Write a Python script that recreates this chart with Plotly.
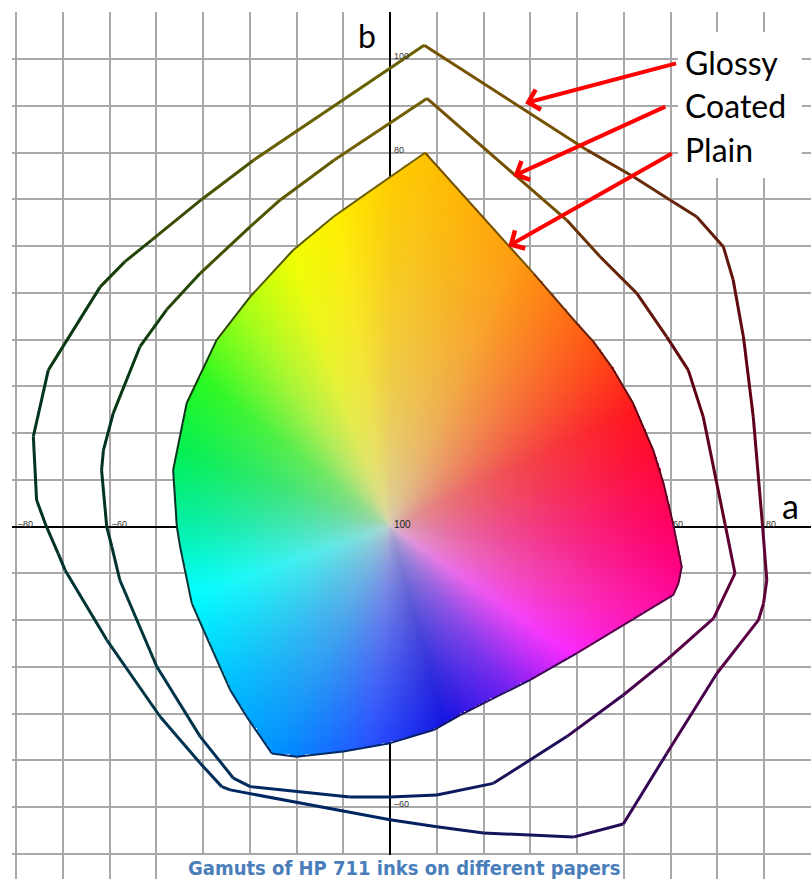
import numpy as np
import plotly.graph_objects as go

# ---------------- data (a*, b* gamut outlines) ----------------
glossy_a = [7.3, -29.2, -40.3, -51.0, -56.7, -62.0, -73.1, -76.3, -75.6, -73.5, -71.0, -69.5, -60.6, -49.2,
            -40.6, -36.0, -34.2, 0.0, 10.0, 20.0, 39.2, 49.9, 59.2, 69.9, 78.8, 79.9, 80.6, 79.7, 77.7, 75.6,
            73.4, 71.3, 65.6, 59.9, 52.0, 42.1]
glossy_b = [103.0, 78.4, 70.0, 61.3, 56.7, 51.3, 33.5, 19.3, 5.7, 0.0, -5.7, -9.3, -24.2, -40.6,
            -50.6, -55.6, -56.3, -62.7, -64.2, -65.5, -66.4, -63.6, -48.5, -31.4, -20.0, -16.4, -11.4, 0.0, 23.5, 40.6,
            52.8, 59.9, 66.3, 69.9, 74.9, 80.6]

coated_a = [7.9, -12.0, -23.5, -29.9, -40.6, -47.8, -53.5, -59.2, -61.3, -61.7, -60.6, -59.5, -57.8, -49.9,
            -40.6, -33.5, -29.9, -8.6, 0.0, 10.0, 22.1, 37.8, 49.9, 59.2, 69.2, 73.8, 71.7, 67.0, 63.8, 59.2,
            52.8, 44.9, 37.8]
coated_b = [91.6, 78.4, 69.9, 64.2, 54.2, 46.4, 38.5, 24.3, 16.4, 12.1, 0.0, -4.3, -11.4, -29.9,
            -44.9, -53.8, -55.6, -57.8, -57.8, -57.4, -54.9, -44.9, -36.0, -28.5, -19.6, -10.0, 0.4, 23.5, 33.5, 40.6,
            49.9, 57.8, 65.6]

plain_a = [7.5, -5.0, -12.1, -20.7, -29.9, -37.1, -43.5, -46.4, -45.6, -44.9, -42.4, -39.9, -34.2, -30.7,
           -25.3, -20.0, -10.0, 0.0, 9.3, 15.0, 29.9, 39.9, 60.6, 61.7, 62.4, 60.6, 58.5, 56.3, 52.0, 47.4,
           43.5, 39.6, 30.7]
plain_b = [80.0, 71.3, 66.3, 59.2, 49.2, 39.9, 26.4, 12.1, 0.0, -4.3, -16.4, -22.1, -34.9, -40.6,
           -48.5, -49.2, -48.1, -46.3, -43.5, -40.3, -32.8, -27.1, -14.6, -12.1, -8.6, 0.4, 9.3, 16.4, 26.4, 34.2,
           39.6, 43.9, 54.2]

label_names = ["Glossy", "Coated", "Plain"]
arrow_tail_a = [61.5, 59.2, 60.6]
arrow_tail_b = [99.2, 90.0, 80.0]
arrow_tip_a = [28.9, 26.4, 25.3]
arrow_tip_b = [90.6, 75.0, 60.0]

a_tick_values = [-80, -60, 60, 80]
b_tick_values = [100, 80, -60]
title_text = "Gamuts of HP 711 inks on different papers"

# ---------------- styling helpers ----------------
FILL_ANGLES = [0, 15, 25, 38, 50, 65, 80, 90, 100, 110, 125, 142, 160, 178, 199, 225, 245, 265, 285, 305, 325, 340, 352]
FILL_RGB = [(255, 0, 100), (255, 10, 50), (255, 20, 30), (255, 70, 20), (255, 110, 20), (255, 155, 15),
            (255, 185, 0), (255, 205, 0), (255, 240, 0), (240, 255, 0), (160, 255, 20), (40, 250, 30),
            (0, 240, 80), (0, 240, 160), (0, 255, 255), (0, 190, 255), (0, 140, 255), (40, 80, 255),
            (20, 20, 225), (110, 30, 240), (250, 40, 255), (255, 20, 180), (255, 0, 130)]
LINE_ANGLES = [0, 25, 50, 70, 85, 100, 120, 140, 160, 185, 215, 245, 270, 295, 320, 340]
LINE_RGB = [(95, 0, 45), (95, 0, 15), (100, 40, 10), (115, 75, 0), (120, 95, 0), (100, 95, 0), (70, 80, 0),
            (15, 60, 10), (0, 52, 28), (0, 50, 42), (0, 55, 72), (0, 42, 98), (0, 35, 100), (20, 20, 90),
            (60, 0, 80), (90, 0, 70)]
CENTER_RGB = np.array([210, 205, 200], dtype=float)


def interp_rgb(angles_deg, anchors, rgbs):
    arr = np.array(rgbs, dtype=float)
    return np.stack([np.interp(angles_deg, anchors, arr[:, k], period=360) for k in range(3)], axis=-1)


def line_color(a, b):
    ang = np.degrees(np.arctan2(b, a)) % 360
    c = interp_rgb(np.array([ang]), LINE_ANGLES, LINE_RGB)[0]
    return "rgb(%d,%d,%d)" % tuple(int(round(v)) for v in c)


# ---------------- filled Plain gamut as an image ----------------
pa = np.array(plain_a)
pb = np.array(plain_b)
step = 0.4
ga = np.arange(-48, 64.01, step)
gb = np.arange(-51, 82.01, step)
A, B = np.meshgrid(ga, gb)

inside = np.zeros(A.shape, dtype=bool)
n = len(pa)
for i in range(n):
    x1, y1 = pa[i], pb[i]
    x2, y2 = pa[(i + 1) % n], pb[(i + 1) % n]
    cond = (y1 > B) != (y2 > B)
    xint = (x2 - x1) * (B - y1) / ((y2 - y1) if y2 != y1 else 1e-9) + x1
    inside ^= cond & (A < xint)

ang = np.degrees(np.arctan2(B, A)) % 360
v_ang = np.degrees(np.arctan2(pb, pa)) % 360
v_rad = np.hypot(pa, pb)
order = np.argsort(v_ang)
Rmax = np.interp(ang, v_ang[order], v_rad[order], period=360)
t = np.clip(np.hypot(A, B) / Rmax, 0, 1) ** 0.5
edge = interp_rgb(ang, FILL_ANGLES, FILL_RGB)
rgb = CENTER_RGB * (1 - t[..., None]) + edge * t[..., None]
rgba = np.concatenate([np.round(rgb), inside[..., None].astype(float)], axis=-1)
z = rgba.astype(int).tolist()

fig = go.Figure()
fig.add_trace(go.Image(z=z, colormodel="rgba", x0=ga[0], dx=step, y0=gb[0], dy=step,
                       hoverinfo="skip"))


def add_outline(xs, ys, width):
    m = len(xs)
    for i in range(m):
        j = (i + 1) % m
        mid_a = (xs[i] + xs[j]) / 2
        mid_b = (ys[i] + ys[j]) / 2
        fig.add_trace(go.Scatter(x=[xs[i], xs[j]], y=[ys[i], ys[j]], mode="lines",
                                 line=dict(color=line_color(mid_a, mid_b), width=width),
                                 hoverinfo="skip", showlegend=False))


add_outline(glossy_a, glossy_b, 3)
add_outline(coated_a, coated_b, 3)
add_outline(plain_a, plain_b, 2)

annotations = []
# arrows
for i in range(3):
    annotations.append(dict(x=arrow_tip_a[i], y=arrow_tip_b[i], ax=arrow_tail_a[i], ay=arrow_tail_b[i],
                            xref="x", yref="y", axref="x", ayref="y", text="", showarrow=True,
                            arrowhead=4, arrowsize=1, arrowwidth=4, arrowcolor="#FF0000"))
# labels
label_y = [99.4, 90.2, 80.6]
for i, name in enumerate(label_names):
    annotations.append(dict(x=62.7, y=label_y[i], xref="x", yref="y", text=name, showarrow=False,
                            xanchor="left", yanchor="middle",
                            font=dict(family="Lato, Liberation Sans, sans-serif", size=32, color="#000000")))
# axis letters
annotations.append(dict(x=-4.9, y=105.0, xref="x", yref="y", text="b", showarrow=False,
                        font=dict(family="Lato, Liberation Sans, sans-serif", size=32, color="#000000")))
annotations.append(dict(x=85.6, y=4.6, xref="x", yref="y", text="a", showarrow=False,
                        font=dict(family="Lato, Liberation Sans, sans-serif", size=34, color="#000000")))
# tiny tick labels
tick_font = dict(family="Liberation Sans, Arial, sans-serif", size=9, color="#333333")
for v in a_tick_values:
    annotations.append(dict(x=v + 0.1, y=0.6, xref="x", yref="y", text=str(v).replace("-", "\u2013"),
                            showarrow=False, xanchor="left", yanchor="middle", font=tick_font))
for v in b_tick_values:
    annotations.append(dict(x=0.5, y=v + 0.6, xref="x", yref="y", text=str(v).replace("-", "\u2013"),
                            showarrow=False, xanchor="left", yanchor="middle", font=tick_font))
annotations.append(dict(x=0.4, y=0.4, xref="x", yref="y", text="100", showarrow=False,
                        xanchor="left", yanchor="middle",
                        font=dict(family="Liberation Sans, Arial, sans-serif", size=10, color="#222222")))
# title
annotations.append(dict(x=0.491, y=-73.0, xref="paper", yref="y", text="<b>" + title_text + "</b>",
                        showarrow=False, xanchor="center", yanchor="middle",
                        font=dict(family="Liberation Sans Narrow, DejaVu Sans Condensed, Arial Narrow, sans-serif",
                                  size=20, color="#4A7EBB")))

shapes = [
    dict(type="rect", xref="x", yref="y", x0=61.6, x1=88.1, y0=74.6, y1=105.8,
         fillcolor="white", line=dict(width=0), layer="above"),
    dict(type="rect", xref="x", yref="y", x0=-49.8, x1=49.4, y0=-80, y1=-70.2,
         fillcolor="white", line=dict(width=0), layer="above"),
]

fig.update_layout(
    width=811, height=879,
    margin=dict(l=12, r=0, t=12, b=0),
    paper_bgcolor="white", plot_bgcolor="white",
    showlegend=False,
    annotations=annotations,
    shapes=shapes,
    xaxis=dict(range=[-80.86, 90.05], tick0=0, dtick=10, showgrid=True, gridcolor="#A8A8A8", gridwidth=1.5,
               zeroline=True, zerolinecolor="#000000", zerolinewidth=2, showticklabels=False, ticks="",
               showline=False, fixedrange=True),
    yaxis=dict(range=[-75.36, 110.1], tick0=0, dtick=10, showgrid=True, gridcolor="#A8A8A8", gridwidth=1.5,
               zeroline=True, zerolinecolor="#000000", zerolinewidth=2, showticklabels=False, ticks="",
               showline=False, fixedrange=True),
)

fig.write_html("out.html", config={"displayModeBar": False},
               post_script="document.body.style.margin='0';document.body.style.padding='0';"
                           "document.body.style.overflow='hidden';")
